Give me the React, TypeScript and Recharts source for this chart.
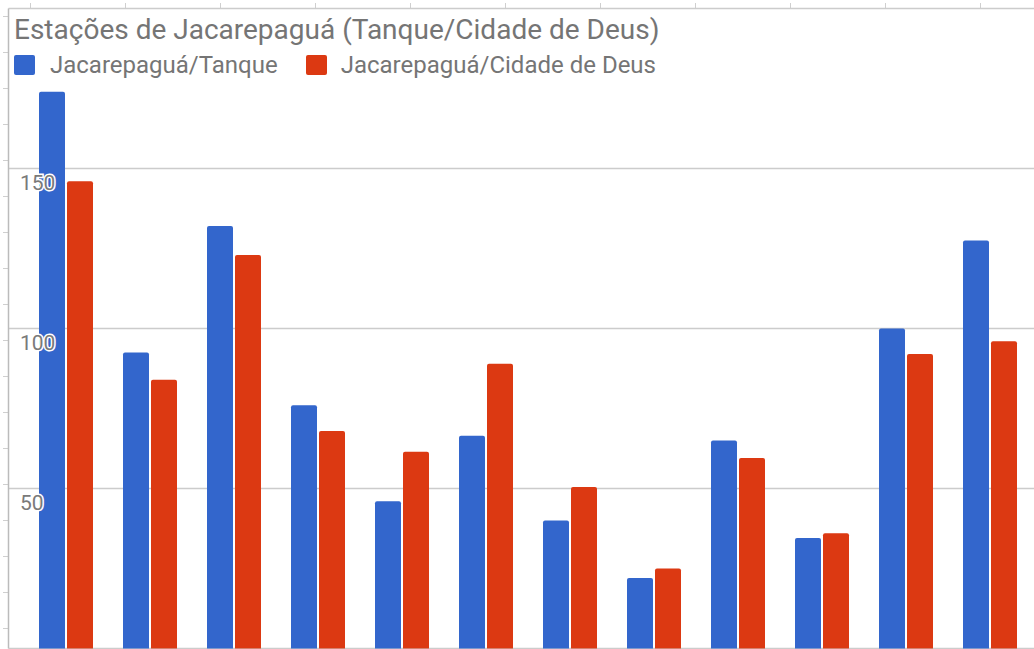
import { BarChart, Bar, XAxis, YAxis, CartesianGrid } from "recharts";

// Categorias (o eixo X não mostra rótulos no gráfico original)
const categorias = ["1", "2", "3", "4", "5", "6", "7", "8", "9", "10", "11", "12"];
const tanque = [174, 92.5, 132, 76, 46, 66.5, 40, 22, 65, 34.5, 100, 127.5];
const cidadeDeDeus = [146, 84, 123, 68, 61.5, 89, 50.5, 25, 59.5, 36, 92, 96];
const yTicks = [0, 50, 100, 150, 200];
const yLabelsVisiveis = [50, 100, 150];

const titulo = "Estações de Jacarepaguá (Tanque/Cidade de Deus)";
const serie1 = "Jacarepaguá/Tanque";
const serie2 = "Jacarepaguá/Cidade de Deus";

const AZUL = "#3366cc";
const VERMELHO = "#dc3912";
const CINZA_TEXTO = "#757575";

const data = categorias.map((c, i) => ({
  cat: c,
  tanque: tanque[i],
  cdd: cidadeDeDeus[i],
}));

const renderYTick = (props: any) => {
  const { y, payload } = props;
  if (!yLabelsVisiveis.includes(Number(payload.value))) return <g />;
  return (
    <text
      x={20}
      y={y + 21}
      fontSize={21}
      fontFamily="Roboto"
      fill="#7a7a7a"
      stroke="#ffffff"
      strokeWidth={3}
      paintOrder="stroke"
      textAnchor="start"
    >
      {payload.value}
    </text>
  );
};

export default function App() {
  return (
    <div
      style={{
        position: "absolute",
        left: 0,
        top: 0,
        width: 1034,
        height: 649,
        background: "#fff",
        overflow: "hidden",
        fontFamily: "Roboto",
      }}
    >
      {/* marcas de régua fora da área do gráfico */}
      <div
        style={{
          position: "absolute",
          left: 3,
          top: 0,
          width: 5,
          height: 649,
          backgroundImage:
            "repeating-linear-gradient(to bottom, transparent 0px, transparent 16px, #cfcfcf 16px, #cfcfcf 17px, transparent 17px, transparent 36px)",
        }}
      />
      <div
        style={{
          position: "absolute",
          left: 0,
          top: 3,
          width: 1034,
          height: 5,
          backgroundImage:
            "repeating-linear-gradient(to right, transparent 0px, transparent 30px, #cfcfcf 30px, #cfcfcf 31px, transparent 31px, transparent 95px)",
        }}
      />
      <BarChart
        width={1034}
        height={649}
        data={data}
        margin={{ top: 8.5, right: 0, bottom: 0.5, left: 8.5 }}
        barCategoryGap={15.5}
        barGap={2}
        style={{ position: "absolute", left: 0, top: 0 }}
      >
        <CartesianGrid vertical={false} stroke="#cccccc" strokeWidth={1.5} />
        <XAxis dataKey="cat" hide padding={{ left: 15, right: 2.5 }} />
        <Bar
          dataKey="tanque"
          name={serie1}
          fill={AZUL}
          radius={[2, 2, 0, 0]}
          isAnimationActive={false}
        />
        <Bar
          dataKey="cdd"
          name={serie2}
          fill={VERMELHO}
          radius={[2, 2, 0, 0]}
          isAnimationActive={false}
        />
        <YAxis
          mirror
          domain={[0, 200]}
          ticks={yTicks}
          interval={0}
          tickLine={false}
          axisLine={{ stroke: "#bbbbbb", strokeWidth: 1.5 }}
          tick={renderYTick}
        />
      </BarChart>

      {/* título e legenda sobrepostos à área do gráfico */}
      <div
        style={{
          position: "absolute",
          left: 14,
          top: 12,
          fontSize: 28,
          color: CINZA_TEXTO,
          whiteSpace: "nowrap",
          lineHeight: "36px",
        }}
      >
        {titulo}
      </div>
      <div
        style={{
          position: "absolute",
          left: 14,
          top: 52,
          display: "flex",
          alignItems: "center",
          fontSize: 24,
          color: CINZA_TEXTO,
          whiteSpace: "nowrap",
          lineHeight: "26px",
        }}
      >
        <span style={{ width: 21, height: 20, background: AZUL, borderRadius: 2, marginRight: 15 }} />
        <span style={{ marginRight: 28 }}>{serie1}</span>
        <span style={{ width: 21, height: 20, background: VERMELHO, borderRadius: 2, marginRight: 14 }} />
        <span>{serie2}</span>
      </div>
    </div>
  );
}
